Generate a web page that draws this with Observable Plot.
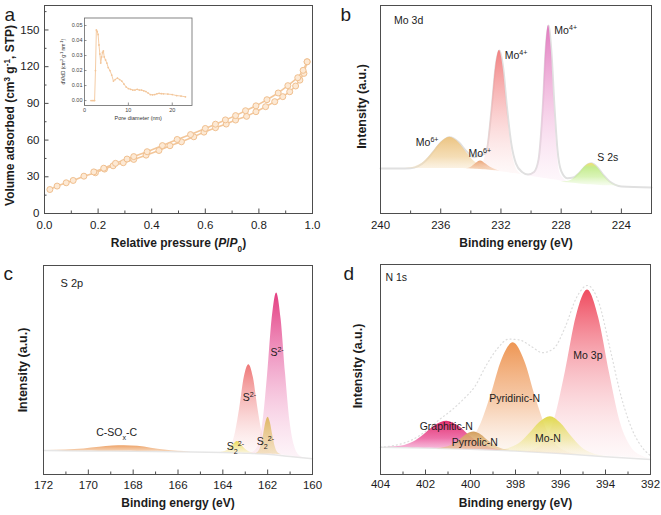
<!DOCTYPE html>
<html><head><meta charset="utf-8">
<script src="https://cdn.jsdelivr.net/npm/d3@7"></script>
<script src="https://cdn.jsdelivr.net/npm/@observablehq/plot@0.6"></script>
<style>
body{margin:0;background:#fff;}
#wrap{position:relative;width:661px;height:515px;overflow:hidden;background:#fff;}
#wrap > div{position:absolute;line-height:0;}
</style></head><body><div id="wrap"></div>
<script>
// ---------- Panel a : N2 isotherm ----------
const adsP = [0.02,0.047,0.081,0.107,0.147,0.19,0.224,0.256,0.294,0.333,0.379,0.427,0.468,0.511,0.557,0.595,0.638,0.678,0.713,0.754,0.789,0.825,0.859,0.889,0.915,0.937,0.953,0.968,0.98];
const adsV = [19.6,22.4,25.1,27,30.5,33.3,36.3,39,41.5,44.2,47.7,51.5,55.4,58.6,62.7,66.5,70.1,73.1,76.4,79.4,83.2,87.3,91.4,95.5,99.5,104.2,109,114.5,124];
const desP = [0.98,0.965,0.945,0.908,0.872,0.83,0.789,0.75,0.713,0.675,0.638,0.6,0.545,0.495,0.44,0.383,0.333,0.308,0.265,0.221,0.184];
const desV = [124,117,111,104.5,98.5,93,88,84,80,76.5,73,69.5,64.5,60.5,55.5,50.5,46.5,44.5,41,37,34];
const aXTicks = [0,0.2,0.4,0.6,0.8,1.0];
const aXMinor = [0.1,0.3,0.5,0.7,0.9];
const aYTicks = [0,30,60,90,120,150];
const aYMinor = [15,45,75,105,135,165];

// inset: pore size distribution
const poreD = [1.5,1.8,2.1,2.3,2.5,2.7,2.9,3.1,3.3,3.5,3.7,3.9,4.1,4.3,4.5,4.8,5.1,5.4,5.8,6.2,6.6,7.0,7.5,8.0,8.5,9.0,9.5,10.0,10.5,11.0,11.5,12.0,12.5,13.0,13.5,14.0,14.5,15.0,15.5,16.0,16.5,17.0,17.5,18.0,19.0,20.0,21.0,22.0,23.0];
const dVdD  = [0,0,0,0,0.02,0.047,0.046,0.044,0.037,0.031,0.025,0.029,0.032,0.033,0.029,0.027,0.025,0.022,0.02,0.017,0.013,0.014,0.015,0.014,0.013,0.011,0.009,0.008,0.0075,0.007,0.007,0.0075,0.007,0.007,0.0065,0.006,0.005,0.004,0.0038,0.004,0.0045,0.0048,0.0046,0.0045,0.0043,0.004,0.0033,0.003,0.0025];
const insetXTicks = [0,10,20];
const insetYTicks = [0,0.01,0.02,0.03,0.04,0.05];

// ---------- Panel b : Mo 3d  ([eV, background, top]) ----------
const bMo6a = [[238.4,21.6,21.6],[237.7,21.6,22.5],[237.1,21.6,24.9],[236.55,21.6,29.1],[236.0,21.6,34.0],[235.4,21.6,36.6],[234.8,21.6,34.0],[234.25,21.5,29.0],[233.7,21.3,24.6],[233.1,21.1,22.2],[232.4,20.6,20.8]];
const bMo6b = [[234.3,21.5,21.5],[233.95,21.4,22.4],[233.7,21.3,23.8],[233.35,21.2,25.3],[233.0,21.0,23.8],[232.7,20.8,22.2],[232.3,20.5,20.9],[232.0,20.2,20.2]];
const bMo4a = [[233.7,21.3,21.3],[233.4,21.2,22.0],[233.1,21.0,25.8],[232.85,20.8,34.9],[232.6,20.6,51.5],[232.35,20.4,70.3],[232.1,20.2,78.4],[231.85,20.0,69.9],[231.6,19.7,50.6],[231.35,19.4,33.5],[231.1,19.2,24.0],[230.8,18.9,19.7],[230.5,18.5,18.5]];
const bMo4b = [[230.2,18.2,18.2],[229.84,17.7,19.7],[229.6,17.4,21.8],[229.4,17.2,32.3],[229.2,17.0,53.5],[229.03,16.8,78.4],[228.84,16.6,90.4],[228.65,16.4,78.0],[228.47,16.2,52.7],[228.28,16.0,31.0],[228.1,15.7,20.0],[227.84,15.3,16.8],[227.5,14.9,14.9]];
const bS2s = [[228.0,15.2,15.2],[227.6,14.8,15.4],[227.2,14.5,16.6],[226.8,14.2,19.3],[226.4,14.0,22.6],[226.0,13.8,24.0],[225.6,13.6,22.2],[225.2,13.4,18.5],[224.8,13.3,15.4],[224.4,13.2,13.8],[224.0,13.0,13.0]];
const bEnv = [[240,21.6],[238,21.8],[237,25.3],[236.5,29.6],[236,34],[235.4,36.6],[234.8,34.2],[234.3,30],[233.8,27],[233.4,28],[233,29],[232.6,52],[232.35,71],[232.1,78.4],[231.85,70],[231.6,51],[231.3,33],[231,24],[230.6,20],[230.2,18.8],[229.8,20],[229.5,26],[229.2,54],[229.03,79],[228.84,90.4],[228.65,78],[228.45,52],[228.25,31],[228,20.5],[227.6,17],[227.2,17.3],[226.8,19.5],[226.4,22.7],[226,24.1],[225.6,22.3],[225.2,18.6],[224.8,15.5],[224.4,13.8],[224,13],[222,12.5]];
const bXTicks = [240,236,232,228,224];
const bXMinor = [238,234,230,226];
const bLabText = ["Mo^{6+}","Mo^{6+}","Mo^{4+}","Mo^{4+}","S 2s"];
const bLabX = [236.9,233.4,231.0,227.7,224.9];
const bLabY = [34,29,76,88,27];

// ---------- Panel c : S 2p ----------
const cCSOx = [[171.8,11.45,11.5],[171.0,11.4,11.7],[170.2,11.35,12.2],[169.5,11.3,13.0],[168.9,11.25,13.6],[168.4,11.2,13.8],[167.8,11.15,13.5],[167.2,11.1,12.6],[166.6,11.0,11.7],[166.0,10.9,11.1],[165.4,10.85,10.85]];
const cS22a = [[164.1,10.6,10.6],[163.85,10.5,11.2],[163.65,10.45,12.9],[163.5,10.4,14.6],[163.36,10.4,15.8],[163.2,10.35,14.5],[163.05,10.3,12.7],[162.85,10.25,11.0],[162.6,10.2,10.2]];
const cS2a = [[164.1,10.6,10.6],[163.89,10.5,11.0],[163.66,10.4,13.0],[163.44,10.35,19.9],[163.25,10.3,31.4],[163.04,10.25,46.6],[162.84,10.2,52.5],[162.64,10.1,46.5],[162.43,10.0,31.2],[162.24,9.9,19.5],[162.02,9.8,12.4],[161.8,9.7,10.2],[161.6,9.6,9.6]];
const cS22b = [[162.55,9.95,9.95],[162.4,9.9,11.0],[162.29,9.85,13.7],[162.19,9.85,18.6],[162.08,9.8,24.9],[161.98,9.8,27.4],[161.88,9.75,24.8],[161.77,9.7,18.5],[161.67,9.65,13.5],[161.56,9.6,10.7],[161.4,9.5,9.6]];
const cS2b = [[162.8,10.1,10.1],[162.6,10.0,11.0],[162.4,9.9,14.6],[162.2,9.8,25.9],[162.0,9.7,48.2],[161.8,9.6,74.6],[161.6,9.5,86.9],[161.4,9.3,74.3],[161.2,9.1,47.8],[161.0,8.8,25.0],[160.8,8.5,13.5],[160.6,8.2,9.2],[160.4,8.0,8.0]];
const cBase = [[172,11.5],[170,11.3],[168,11.1],[166,10.9],[164,10.5],[163,10.2],[162,9.7],[161,8.6],[160,7.5]];
const cXTicks = [172,170,168,166,164,162,160];
const cXMinor = [171,169,167,165,163,161];
const cLabText = ["C-SO_{x}-C","S_{2}^{2-}","S^{2-}","S_{2}^{2-}","S^{2-}"];
const cLabX = [168.74,163.44,162.81,162.1,161.58];
const cLabY = [20.2,13.1,37,15.5,58.2];

// ---------- Panel d : N 1s ----------
const dGraph = [[403.9,13,13],[403.55,12.9,13.1],[403.05,12.8,13.6],[402.55,12.7,15.4],[402.05,12.6,19.1],[401.55,12.5,23.4],[401.05,12.4,25.4],[400.55,12.3,23.2],[400.05,12.1,18.6],[399.55,11.9,14.6],[399.05,11.7,12.5],[398.55,11.5,11.5]];
const dPyrr = [[401.5,12.3,12.3],[401.15,12.3,12.8],[400.83,12.2,13.9],[400.5,12.1,16.2],[400.18,12.05,18.95],[399.85,12.0,20.2],[399.52,11.9,18.8],[399.2,11.8,15.9],[398.87,11.7,13.4],[398.55,11.55,12.05],[398.2,11.4,11.4]];
const dPyri = [[401.1,12.3,12.3],[400.6,12.1,12.8],[400.1,12.0,15.2],[399.6,11.8,22.6],[399.1,11.6,37.4],[398.6,11.4,54.7],[398.1,11.2,62.7],[397.6,10.9,54.2],[397.1,10.6,36.4],[396.6,10.3,21.1],[396.1,10.0,13.2],[395.6,9.7,10.4],[395.1,9.4,9.4]];
const dMoN = [[399.2,11.6,11.6],[398.75,11.4,11.6],[398.3,11.3,12.4],[397.84,11.0,14.6],[397.38,10.7,19.35],[396.91,10.4,24.9],[396.45,10.2,27.5],[395.99,9.9,24.4],[395.52,9.6,18.25],[395.06,9.3,12.9],[394.6,9.0,10.1],[394.15,8.6,8.8],[393.7,8.3,8.3]];
const dMo3p = [[397.7,10.7,10.7],[397.24,10.5,11.5],[396.75,10.2,15.1],[396.26,9.9,26.4],[395.78,9.7,49.0],[395.29,9.5,75.5],[394.8,9.2,87.9],[394.31,8.9,74.9],[393.82,8.6,48.2],[393.34,8.3,24.8],[392.85,8.0,12.9],[392.36,7.7,8.7],[392.0,7.2,7.3]];
const dRaw = [[404,13],[403.3,14],[402.6,16.5],[402,20.5],[401.4,26],[400.8,31],[400.3,36],[399.8,42],[399.3,52],[398.8,60],[398.3,64.5],[397.8,64],[397.3,61],[396.8,58],[396.3,60],[395.8,70],[395.3,84],[394.8,90],[394.3,82],[393.8,60],[393.3,37],[392.8,21],[392.3,12],[392,9]];
const dBase = [[404,13],[402,12.6],[400,12],[398,11.2],[396,10],[394,8.5],[392,7.2]];
const dXTicks = [404,402,400,398,396,394,392];
const dXMinor = [403,401,399,397,395,393];
const dLabText = ["Graphitic-N","Pyrrolic-N","Pyridinic-N","Mo-N","Mo 3p"];
const dLabX = [401.08,399.81,398.04,396.56,394.78];
const dLabY = [23,15.4,36,17.3,56.7];

// ---------- helpers ----------
const FONT = "'Liberation Sans', Arial, Helvetica, sans-serif";
const INK = "#1c1c1c";
const FRAME = "#4d4d4d";
const wrap = document.getElementById("wrap");
const NS = "http://www.w3.org/2000/svg";

function place(svg, left, top) {
  const d = document.createElement("div");
  d.style.left = left + "px"; d.style.top = top + "px";
  d.appendChild(svg); wrap.appendChild(d);
}
function addGradients(svg, grads) {
  const defs = document.createElementNS(NS, "defs");
  for (const g of grads) {
    const lg = document.createElementNS(NS, "linearGradient");
    lg.setAttribute("id", g.id);
    lg.setAttribute("x1", 0); lg.setAttribute("y1", 0); lg.setAttribute("x2", 0); lg.setAttribute("y2", 1);
    for (const [o, c, op] of g.stops) {
      const s = document.createElementNS(NS, "stop");
      s.setAttribute("offset", o); s.setAttribute("stop-color", c); s.setAttribute("stop-opacity", op);
      lg.appendChild(s);
    }
    defs.appendChild(lg);
  }
  svg.insertBefore(defs, svg.firstChild);
}
function rich(svg) {
  svg.querySelectorAll("text, tspan").forEach(el => {
    if (el.childElementCount) return;
    const s = el.textContent;
    if (!/[\^_*]\{/.test(s)) return;
    el.textContent = "";
    const re = /([\^_*])\{([^}]*)\}/g;
    let last = 0, m;
    const add = (txt, kind) => {
      const t = document.createElementNS(NS, "tspan");
      t.textContent = txt;
      if (kind === "^") { t.setAttribute("font-size", "68%"); t.setAttribute("baseline-shift", "super"); }
      if (kind === "_") { t.setAttribute("font-size", "68%"); t.setAttribute("baseline-shift", "sub"); }
      if (kind === "*") t.setAttribute("font-style", "italic");
      el.appendChild(t);
    };
    while ((m = re.exec(s))) { if (m.index > last) add(s.slice(last, m.index)); add(m[2], m[1]); last = re.lastIndex; }
    if (last < s.length) add(s.slice(last));
  });
}
const peak = (data, fill) => Plot.areaY(data, {x: d => d[0], y1: d => d[1], y2: d => d[2], fill, curve: "monotone-x"});
const labels = (T, X, Y, fs = 10) => Plot.text(d3.range(T.length), {x: i => X[i], y: i => Y[i], text: i => T[i], fontSize: fs, fill: INK});

function buildPanel(o) {
  const pw = o.width - o.ml - o.mr, ph = o.height - o.mt - o.mb;
  const marks = [
    ...o.marks,
    Plot.frame({stroke: FRAME, strokeWidth: 1}),
    Plot.tickX(o.xMajor, {x: d => d, insetTop: ph - 4.5, stroke: FRAME}),
    Plot.tickX(o.xMinor, {x: d => d, insetTop: ph - 2.5, stroke: FRAME}),
    Plot.axisX(o.xMajor, {tickSize: 0, tickPadding: o.xPad, fontSize: 11.5, tickFormat: o.xFmt, label: null, fill: INK}),
    Plot.text([o.xTitle], {frameAnchor: "bottom", dy: o.xTitleDy, text: d => d, fontSize: 12, fontWeight: "bold", fill: INK, textAnchor: "middle", lineAnchor: "middle"}),
    Plot.text([o.yTitle], {frameAnchor: "left", dx: o.yTitleDx, dy: o.yTitleDyy, rotate: -90, text: d => d, fontSize: o.yTitleSize || 12.5, fontWeight: "bold", fill: INK, textAnchor: "middle", lineAnchor: "middle"}),
    Plot.text([o.tag], {frameAnchor: "top-left", dx: o.tagDx, dy: o.tagDy, text: d => d, fontSize: 19, textAnchor: "start", lineAnchor: "middle", fill: INK})
  ];
  if (o.yMajor) marks.push(
    Plot.tickY(o.yMajor, {y: d => d, insetRight: pw - 4.5, stroke: FRAME}),
    Plot.tickY(o.yMinor, {y: d => d, insetRight: pw - 2.5, stroke: FRAME}),
    Plot.axisY(o.yMajor, {tickSize: 0, tickPadding: 5, fontSize: 11.5, label: null, fill: INK})
  );
  const svg = Plot.plot({
    width: o.width, height: o.height,
    marginLeft: o.ml, marginRight: o.mr, marginTop: o.mt, marginBottom: o.mb,
    x: {domain: o.xdom, axis: null}, y: {domain: o.ydom, axis: null},
    style: {fontFamily: FONT, background: "transparent", color: INK, overflow: "visible"},
    marks
  });
  if (o.grads) addGradients(svg, o.grads);
  rich(svg);
  return svg;
}

const ads = adsP.map((p, i) => [p, adsV[i]]);
const des = desP.map((p, i) => [p, desV[i]]);
const pore = poreD.map((p, i) => [p, dVdD[i]]);
const LINE_A = "#f3c699", DOT_FILL = "#fde9d4", DOT_STROKE = "#f0c090";

// ---------- a ----------
place(buildPanel({
  width: 330, height: 255, ml: 44, mr: 18, mt: 5, mb: 42,
  xdom: [0, 1], ydom: [0, 170],
  xMajor: aXTicks, xMinor: aXMinor, yMajor: aYTicks, yMinor: aYMinor, xFmt: ".1f", xPad: 7,
  xTitle: "Relative pressure (*{P}/*{P}_{0})", xTitleDy: 29.5,
  yTitle: "Volume adsorbed (cm^{3} g^{-1}, STP)", yTitleDx: -34, yTitleDyy: 6, yTitleSize: 12,
  tag: "a", tagDx: -40, tagDy: 9,
  marks: [
    Plot.line(ads, {x: d => d[0], y: d => d[1], stroke: LINE_A, strokeWidth: 1.6}),
    Plot.line(des, {x: d => d[0], y: d => d[1], stroke: LINE_A, strokeWidth: 1.6}),
    Plot.dot(ads, {x: d => d[0], y: d => d[1], r: 3, fill: DOT_FILL, stroke: DOT_STROKE, strokeWidth: 1}),
    Plot.dot(des, {x: d => d[0], y: d => d[1], r: 3, fill: DOT_FILL, stroke: DOT_STROKE, strokeWidth: 1})
  ]
}), 0, 0);

// inset
(function () {
  const W = 140, H = 115, ml = 29, mr = 3.5, mt = 7.5, mb = 20;
  const pw = W - ml - mr, ph = H - mt - mb;
  const svg = Plot.plot({
    width: W, height: H, marginLeft: ml, marginRight: mr, marginTop: mt, marginBottom: mb,
    x: {domain: [0, 24.5], axis: null}, y: {domain: [-0.0033, 0.055], axis: null},
    style: {fontFamily: FONT, background: "transparent", color: "#333", overflow: "visible"},
    marks: [
      Plot.line(pore, {x: d => d[0], y: d => d[1], stroke: "#f5cda6", strokeWidth: 1}),
      Plot.dot(pore, {x: d => d[0], y: d => d[1], r: 0.9, fill: "#f3c69a"}),
      Plot.frame({stroke: "#666", strokeWidth: 0.8}),
      Plot.tickX(insetXTicks, {x: d => d, insetTop: ph - 2.5, stroke: "#666", strokeWidth: 0.7}),
      Plot.tickY(insetYTicks, {y: d => d, insetRight: pw - 2.5, stroke: "#666", strokeWidth: 0.7}),
      Plot.axisX(insetXTicks, {tickSize: 0, tickPadding: 2.5, fontSize: 5.5, label: null, fill: "#444"}),
      Plot.axisY(insetYTicks, {tickSize: 0, tickPadding: 2, fontSize: 5.5, tickFormat: ".2f", label: null, fill: "#444"}),
      Plot.text(["Pore diameter (nm)"], {frameAnchor: "bottom", dy: 13, text: d => d, fontSize: 5.5, fill: "#333", textAnchor: "middle", lineAnchor: "middle"}),
      Plot.text(["dV/dD (cm^{3} g^{-1} nm^{-1})"], {frameAnchor: "left", dx: -21, rotate: -90, text: d => d, fontSize: 5, fill: "#333", textAnchor: "middle", lineAnchor: "middle"})
    ]
  });
  rich(svg);
  place(svg, 55, 10);
})();

// ---------- b ----------
place(buildPanel({
  width: 331, height: 255, ml: 50, mr: 10, mt: 5, mb: 42,
  xdom: [240, 222], ydom: [0, 100],
  xMajor: bXTicks, xMinor: bXMinor, xFmt: "d", xPad: 7,
  xTitle: "Binding energy (eV)", xTitleDy: 30,
  yTitle: "Intensity (a.u.)", yTitleDx: -19, yTitleDyy: -3,
  tag: "b", tagDx: -40, tagDy: 9,
  grads: [
    {id: "gb1", stops: [[0, "#ecc482", 1], [0.6, "#f1d29d", 0.75], [1, "#f6e2bf", 0.35]]},
    {id: "gb2", stops: [[0, "#eba274", 1], [1, "#f3c6a4", 0.45]]},
    {id: "gb3", stops: [[0, "#f28181", 1], [0.45, "#f6a9a9", 0.65], [1, "#fbd5d5", 0.15]]},
    {id: "gb4", stops: [[0, "#e17abf", 1], [0.45, "#eeaad6", 0.7], [1, "#f8d8ec", 0.2]]},
    {id: "gb5", stops: [[0, "#f0df72", 1], [0.18, "#c6ec90", 1], [0.6, "#c9ef98", 0.7], [1, "#e3f7cc", 0.3]]}
  ],
  marks: [
    Plot.line(bEnv, {x: d => d[0], y: d => d[1], stroke: "#e0e0e0", strokeWidth: 2, curve: "monotone-x"}),
    peak(bMo4b, "url(#gb4)"),
    peak(bMo4a, "url(#gb3)"),
    peak(bMo6a, "url(#gb1)"),
    peak(bMo6b, "url(#gb2)"),
    peak(bS2s, "url(#gb5)"),
    Plot.text(["Mo 3d"], {x: 239.1, y: 92.8, text: d => d, textAnchor: "start", fontSize: 10.5, fill: INK}),
    labels(bLabText, bLabX, bLabY, 10.5)
  ]
}), 330, 0);

// ---------- c ----------
place(buildPanel({
  width: 330, height: 260, ml: 43, mr: 18, mt: 10, mb: 41,
  xdom: [172, 160], ydom: [0, 100],
  xMajor: cXTicks, xMinor: cXMinor, xFmt: "d", xPad: 6,
  xTitle: "Binding energy (eV)", xTitleDy: 29,
  yTitle: "Intensity (a.u.)", yTitleDx: -20.5, yTitleDyy: 0,
  tag: "c", tagDx: -40, tagDy: 8,
  grads: [
    {id: "gc1", stops: [[0, "#eda064", 1], [1, "#f1bb8c", 0.6]]},
    {id: "gc2", stops: [[0, "#eadb55", 1], [1, "#f3ea9a", 0.35]]},
    {id: "gc3", stops: [[0, "#ee7676", 1], [0.5, "#f4a7a7", 0.6], [1, "#fadada", 0.15]]},
    {id: "gc4", stops: [[0, "#dfb764", 1], [1, "#ecd49c", 0.55]]},
    {id: "gc5", stops: [[0, "#e43d80", 1], [0.4, "#ec86b8", 0.8], [1, "#f6c6de", 0.2]]}
  ],
  marks: [
    Plot.line(cBase, {x: d => d[0], y: d => d[1], stroke: "#e6e6e6", strokeWidth: 1.5, curve: "monotone-x"}),
    peak(cCSOx, "url(#gc1)"),
    peak(cS2b, "url(#gc5)"),
    peak(cS2a, "url(#gc3)"),
    peak(cS22a, "url(#gc2)"),
    peak(cS22b, "url(#gc4)"),
    Plot.text(["S 2p"], {x: 171.24, y: 91.4, text: d => d, textAnchor: "start", fontSize: 11, fill: INK}),
    labels(cLabText, cLabX, cLabY, 10.5)
  ]
}), 0, 255);

// ---------- d ----------
place(buildPanel({
  width: 331, height: 260, ml: 50, mr: 11, mt: 9, mb: 41,
  xdom: [404, 392], ydom: [0, 100],
  xMajor: dXTicks, xMinor: dXMinor, xFmt: "d", xPad: 5,
  xTitle: "Binding energy (eV)", xTitleDy: 28.5,
  yTitle: "Intensity (a.u.)", yTitleDx: -22.5, yTitleDyy: -3.5,
  tag: "d", tagDx: -37, tagDy: 9,
  grads: [
    {id: "gd1", stops: [[0, "#e2306f", 1], [0.6, "#ec62a0", 0.9], [1, "#f39acb", 0.6]]},
    {id: "gd2", stops: [[0, "#d39e5c", 1], [1, "#e6c48e", 0.6]]},
    {id: "gd3", stops: [[0, "#ee9654", 1], [0.5, "#f2b180", 0.7], [1, "#f7d3b8", 0.15]]},
    {id: "gd4", stops: [[0, "#e0d84c", 1], [0.6, "#ece58a", 0.6], [1, "#f4f0c0", 0.2]]},
    {id: "gd5", stops: [[0, "#ef4a5e", 1], [0.5, "#f598a3", 0.6], [1, "#fbd7dc", 0.15]]}
  ],
  marks: [
    Plot.line(dBase, {x: d => d[0], y: d => d[1], stroke: "#e6e6e6", strokeWidth: 1.5}),
    peak(dMo3p, "url(#gd5)"),
    peak(dPyri, "url(#gd3)"),
    peak(dMoN, "url(#gd4)"),
    peak(dGraph, "url(#gd1)"),
    peak(dPyrr, "url(#gd2)"),
    Plot.line(dRaw, {x: d => d[0], y: d => d[1], stroke: "#dcdcdc", strokeWidth: 1.2, strokeDasharray: "1,3", curve: "monotone-x"}),
    Plot.text(["N 1s"], {x: 403.78, y: 93.7, text: d => d, textAnchor: "start", fontSize: 10.5, fill: INK}),
    labels(dLabText, dLabX, dLabY, 10.5)
  ]
}), 330, 255);
</script></body></html>
